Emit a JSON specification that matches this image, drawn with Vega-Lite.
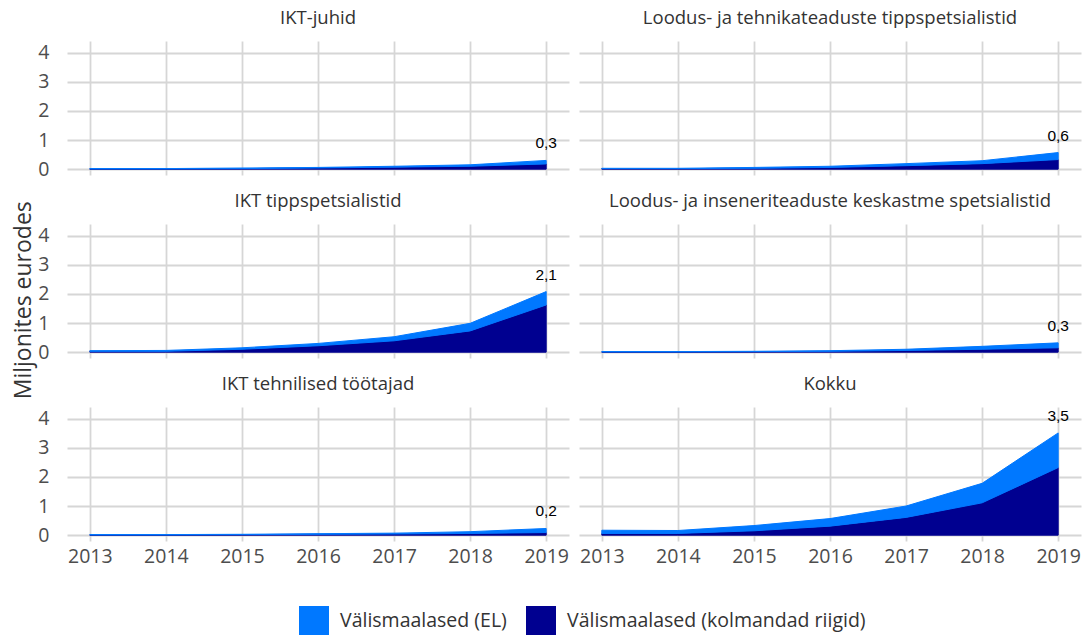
{
  "$schema": "https://vega.github.io/schema/vega-lite/v6.json",
  "padding": {"left": 12, "top": 8, "right": 3, "bottom": 2},
  "title": {"text": "Miljonites eurodes", "orient": "left", "anchor": "middle", "fontSize": 23, "font": "Open Sans", "fontWeight": "normal", "color": "#333333", "offset": 2, "dx": 22},
  "data": {"values": [
    {"panel": "IKT-juhid", "year": 2013, "group": "Välismaalased (kolmandad riigid)", "value": 0.01},
    {"panel": "IKT-juhid", "year": 2014, "group": "Välismaalased (kolmandad riigid)", "value": 0.01},
    {"panel": "IKT-juhid", "year": 2015, "group": "Välismaalased (kolmandad riigid)", "value": 0.02},
    {"panel": "IKT-juhid", "year": 2016, "group": "Välismaalased (kolmandad riigid)", "value": 0.04},
    {"panel": "IKT-juhid", "year": 2017, "group": "Välismaalased (kolmandad riigid)", "value": 0.07},
    {"panel": "IKT-juhid", "year": 2018, "group": "Välismaalased (kolmandad riigid)", "value": 0.1},
    {"panel": "IKT-juhid", "year": 2019, "group": "Välismaalased (kolmandad riigid)", "value": 0.18},
    {"panel": "IKT-juhid", "year": 2013, "group": "Välismaalased (EL)", "value": 0.01},
    {"panel": "IKT-juhid", "year": 2014, "group": "Välismaalased (EL)", "value": 0.01},
    {"panel": "IKT-juhid", "year": 2015, "group": "Välismaalased (EL)", "value": 0.02},
    {"panel": "IKT-juhid", "year": 2016, "group": "Välismaalased (EL)", "value": 0.02},
    {"panel": "IKT-juhid", "year": 2017, "group": "Välismaalased (EL)", "value": 0.03},
    {"panel": "IKT-juhid", "year": 2018, "group": "Välismaalased (EL)", "value": 0.05},
    {"panel": "IKT-juhid", "year": 2019, "group": "Välismaalased (EL)", "value": 0.12},

    {"panel": "Loodus- ja tehnikateaduste tippspetsialistid", "year": 2013, "group": "Välismaalased (kolmandad riigid)", "value": 0.02},
    {"panel": "Loodus- ja tehnikateaduste tippspetsialistid", "year": 2014, "group": "Välismaalased (kolmandad riigid)", "value": 0.02},
    {"panel": "Loodus- ja tehnikateaduste tippspetsialistid", "year": 2015, "group": "Välismaalased (kolmandad riigid)", "value": 0.03},
    {"panel": "Loodus- ja tehnikateaduste tippspetsialistid", "year": 2016, "group": "Välismaalased (kolmandad riigid)", "value": 0.06},
    {"panel": "Loodus- ja tehnikateaduste tippspetsialistid", "year": 2017, "group": "Välismaalased (kolmandad riigid)", "value": 0.12},
    {"panel": "Loodus- ja tehnikateaduste tippspetsialistid", "year": 2018, "group": "Välismaalased (kolmandad riigid)", "value": 0.19},
    {"panel": "Loodus- ja tehnikateaduste tippspetsialistid", "year": 2019, "group": "Välismaalased (kolmandad riigid)", "value": 0.33},
    {"panel": "Loodus- ja tehnikateaduste tippspetsialistid", "year": 2013, "group": "Välismaalased (EL)", "value": 0.01},
    {"panel": "Loodus- ja tehnikateaduste tippspetsialistid", "year": 2014, "group": "Välismaalased (EL)", "value": 0.01},
    {"panel": "Loodus- ja tehnikateaduste tippspetsialistid", "year": 2015, "group": "Välismaalased (EL)", "value": 0.03},
    {"panel": "Loodus- ja tehnikateaduste tippspetsialistid", "year": 2016, "group": "Välismaalased (EL)", "value": 0.04},
    {"panel": "Loodus- ja tehnikateaduste tippspetsialistid", "year": 2017, "group": "Välismaalased (EL)", "value": 0.07},
    {"panel": "Loodus- ja tehnikateaduste tippspetsialistid", "year": 2018, "group": "Välismaalased (EL)", "value": 0.1},
    {"panel": "Loodus- ja tehnikateaduste tippspetsialistid", "year": 2019, "group": "Välismaalased (EL)", "value": 0.24},

    {"panel": "IKT tippspetsialistid", "year": 2013, "group": "Välismaalased (kolmandad riigid)", "value": 0.03},
    {"panel": "IKT tippspetsialistid", "year": 2014, "group": "Välismaalased (kolmandad riigid)", "value": 0.03},
    {"panel": "IKT tippspetsialistid", "year": 2015, "group": "Välismaalased (kolmandad riigid)", "value": 0.1},
    {"panel": "IKT tippspetsialistid", "year": 2016, "group": "Välismaalased (kolmandad riigid)", "value": 0.22},
    {"panel": "IKT tippspetsialistid", "year": 2017, "group": "Välismaalased (kolmandad riigid)", "value": 0.39},
    {"panel": "IKT tippspetsialistid", "year": 2018, "group": "Välismaalased (kolmandad riigid)", "value": 0.73},
    {"panel": "IKT tippspetsialistid", "year": 2019, "group": "Välismaalased (kolmandad riigid)", "value": 1.62},
    {"panel": "IKT tippspetsialistid", "year": 2013, "group": "Välismaalased (EL)", "value": 0.02},
    {"panel": "IKT tippspetsialistid", "year": 2014, "group": "Välismaalased (EL)", "value": 0.03},
    {"panel": "IKT tippspetsialistid", "year": 2015, "group": "Välismaalased (EL)", "value": 0.05},
    {"panel": "IKT tippspetsialistid", "year": 2016, "group": "Välismaalased (EL)", "value": 0.08},
    {"panel": "IKT tippspetsialistid", "year": 2017, "group": "Välismaalased (EL)", "value": 0.14},
    {"panel": "IKT tippspetsialistid", "year": 2018, "group": "Välismaalased (EL)", "value": 0.26},
    {"panel": "IKT tippspetsialistid", "year": 2019, "group": "Välismaalased (EL)", "value": 0.46},

    {"panel": "Loodus- ja inseneriteaduste keskastme spetsialistid", "year": 2013, "group": "Välismaalased (kolmandad riigid)", "value": 0.01},
    {"panel": "Loodus- ja inseneriteaduste keskastme spetsialistid", "year": 2014, "group": "Välismaalased (kolmandad riigid)", "value": 0.01},
    {"panel": "Loodus- ja inseneriteaduste keskastme spetsialistid", "year": 2015, "group": "Välismaalased (kolmandad riigid)", "value": 0.02},
    {"panel": "Loodus- ja inseneriteaduste keskastme spetsialistid", "year": 2016, "group": "Välismaalased (kolmandad riigid)", "value": 0.03},
    {"panel": "Loodus- ja inseneriteaduste keskastme spetsialistid", "year": 2017, "group": "Välismaalased (kolmandad riigid)", "value": 0.06},
    {"panel": "Loodus- ja inseneriteaduste keskastme spetsialistid", "year": 2018, "group": "Välismaalased (kolmandad riigid)", "value": 0.1},
    {"panel": "Loodus- ja inseneriteaduste keskastme spetsialistid", "year": 2019, "group": "Välismaalased (kolmandad riigid)", "value": 0.15},
    {"panel": "Loodus- ja inseneriteaduste keskastme spetsialistid", "year": 2013, "group": "Välismaalased (EL)", "value": 0.01},
    {"panel": "Loodus- ja inseneriteaduste keskastme spetsialistid", "year": 2014, "group": "Välismaalased (EL)", "value": 0.01},
    {"panel": "Loodus- ja inseneriteaduste keskastme spetsialistid", "year": 2015, "group": "Välismaalased (EL)", "value": 0.01},
    {"panel": "Loodus- ja inseneriteaduste keskastme spetsialistid", "year": 2016, "group": "Välismaalased (EL)", "value": 0.02},
    {"panel": "Loodus- ja inseneriteaduste keskastme spetsialistid", "year": 2017, "group": "Välismaalased (EL)", "value": 0.04},
    {"panel": "Loodus- ja inseneriteaduste keskastme spetsialistid", "year": 2018, "group": "Välismaalased (EL)", "value": 0.1},
    {"panel": "Loodus- ja inseneriteaduste keskastme spetsialistid", "year": 2019, "group": "Välismaalased (EL)", "value": 0.17},

    {"panel": "IKT tehnilised töötajad", "year": 2013, "group": "Välismaalased (kolmandad riigid)", "value": 0.01},
    {"panel": "IKT tehnilised töötajad", "year": 2014, "group": "Välismaalased (kolmandad riigid)", "value": 0.01},
    {"panel": "IKT tehnilised töötajad", "year": 2015, "group": "Välismaalased (kolmandad riigid)", "value": 0.02},
    {"panel": "IKT tehnilised töötajad", "year": 2016, "group": "Välismaalased (kolmandad riigid)", "value": 0.03},
    {"panel": "IKT tehnilised töötajad", "year": 2017, "group": "Välismaalased (kolmandad riigid)", "value": 0.04},
    {"panel": "IKT tehnilised töötajad", "year": 2018, "group": "Välismaalased (kolmandad riigid)", "value": 0.06},
    {"panel": "IKT tehnilised töötajad", "year": 2019, "group": "Välismaalased (kolmandad riigid)", "value": 0.09},
    {"panel": "IKT tehnilised töötajad", "year": 2013, "group": "Välismaalased (EL)", "value": 0.01},
    {"panel": "IKT tehnilised töötajad", "year": 2014, "group": "Välismaalased (EL)", "value": 0.01},
    {"panel": "IKT tehnilised töötajad", "year": 2015, "group": "Välismaalased (EL)", "value": 0.01},
    {"panel": "IKT tehnilised töötajad", "year": 2016, "group": "Välismaalased (EL)", "value": 0.02},
    {"panel": "IKT tehnilised töötajad", "year": 2017, "group": "Välismaalased (EL)", "value": 0.03},
    {"panel": "IKT tehnilised töötajad", "year": 2018, "group": "Välismaalased (EL)", "value": 0.06},
    {"panel": "IKT tehnilised töötajad", "year": 2019, "group": "Välismaalased (EL)", "value": 0.14},

    {"panel": "Kokku", "year": 2013, "group": "Välismaalased (kolmandad riigid)", "value": 0.06},
    {"panel": "Kokku", "year": 2014, "group": "Välismaalased (kolmandad riigid)", "value": 0.06},
    {"panel": "Kokku", "year": 2015, "group": "Välismaalased (kolmandad riigid)", "value": 0.15},
    {"panel": "Kokku", "year": 2016, "group": "Välismaalased (kolmandad riigid)", "value": 0.31},
    {"panel": "Kokku", "year": 2017, "group": "Välismaalased (kolmandad riigid)", "value": 0.61},
    {"panel": "Kokku", "year": 2018, "group": "Välismaalased (kolmandad riigid)", "value": 1.11},
    {"panel": "Kokku", "year": 2019, "group": "Välismaalased (kolmandad riigid)", "value": 2.32},
    {"panel": "Kokku", "year": 2013, "group": "Välismaalased (EL)", "value": 0.11},
    {"panel": "Kokku", "year": 2014, "group": "Välismaalased (EL)", "value": 0.1},
    {"panel": "Kokku", "year": 2015, "group": "Välismaalased (EL)", "value": 0.18},
    {"panel": "Kokku", "year": 2016, "group": "Välismaalased (EL)", "value": 0.26},
    {"panel": "Kokku", "year": 2017, "group": "Välismaalased (EL)", "value": 0.39},
    {"panel": "Kokku", "year": 2018, "group": "Välismaalased (EL)", "value": 0.67},
    {"panel": "Kokku", "year": 2019, "group": "Välismaalased (EL)", "value": 1.19}
  ]},
  "facet": {
    "field": "panel",
    "type": "nominal",
    "sort": ["IKT-juhid", "Loodus- ja tehnikateaduste tippspetsialistid", "IKT tippspetsialistid", "Loodus- ja inseneriteaduste keskastme spetsialistid", "IKT tehnilised töötajad", "Kokku"],
    "header": {"title": null, "labelFont": "Open Sans", "labelFontSize": 18.5, "labelColor": "#333333", "labelPadding": 14}
  },
  "columns": 2,
  "spacing": {"row": 16, "column": 10},
  "spec": {
    "width": 502,
    "height": 134,
    "layer": [
      {
        "transform": [{"calculate": "datum.group === 'Välismaalased (kolmandad riigid)' ? 0 : 1", "as": "stackOrder"}],
        "mark": {"type": "area", "opacity": 1, "strokeWidth": 1},
        "encoding": {
          "x": {"field": "year", "type": "quantitative", "scale": {"domain": [2012.7, 2019.3], "nice": false, "zero": false},
                "axis": {"values": [2013, 2014, 2015, 2016, 2017, 2018, 2019], "format": "d", "title": null}},
          "y": {"field": "value", "type": "quantitative", "stack": "zero", "scale": {"domain": [-0.2, 4.4], "nice": false},
                "axis": {"values": [0, 1, 2, 3, 4], "title": null}},
          "color": {"field": "group", "type": "nominal",
                    "scale": {"domain": ["Välismaalased (EL)", "Välismaalased (kolmandad riigid)"], "range": ["#0078FF", "#000090"]},
                    "legend": {"title": null, "orient": "none", "legendX": 232, "legendY": 565, "direction": "horizontal", "symbolType": "square", "symbolSize": 900, "symbolStrokeWidth": 0, "symbolOpacity": 1, "labelFont": "Open Sans", "labelFontSize": 19.5, "labelColor": "#333333", "labelLimit": 400, "columnPadding": 19, "labelOffset": 11}},
          "stroke": {"field": "group", "type": "nominal", "legend": null,
                     "scale": {"domain": ["Välismaalased (EL)", "Välismaalased (kolmandad riigid)"], "range": ["#0078FF", "#000090"]}},
          "order": {"field": "stackOrder", "type": "quantitative", "sort": "ascending"}
        }
      },
      {
        "transform": [
          {"filter": "datum.year == 2019"},
          {"aggregate": [{"op": "sum", "field": "value", "as": "total"}], "groupby": ["panel", "year"]}
        ],
        "mark": {"type": "text", "baseline": "alphabetic", "align": "center", "dy": -12, "font": "Liberation Sans", "fontSize": 15.5, "color": "#000000"},
        "encoding": {
          "x": {"field": "year", "type": "quantitative",
                "axis": {"values": [2013, 2014, 2015, 2016, 2017, 2018, 2019], "format": "d", "title": null}},
          "y": {"field": "total", "type": "quantitative",
                "axis": {"values": [0, 1, 2, 3, 4], "title": null}},
          "text": {"field": "total", "type": "quantitative", "format": ".1f"}
        }
      }
    ]
  },
  "config": {
    "locale": {"number": {"decimal": ",", "thousands": " ", "grouping": [3], "currency": ["", " €"]}},
    "view": {"stroke": null},
    "axis": {"grid": true, "gridColor": "#d6d6d6", "gridWidth": 1.8, "ticks": false, "domain": false, "labelFont": "Open Sans", "labelFontSize": 19.5, "labelColor": "#4d4d4d", "labelOverlap": false},
    "axisX": {"labelPadding": 6},
    "axisY": {"labelPadding": 18}
  }
}
